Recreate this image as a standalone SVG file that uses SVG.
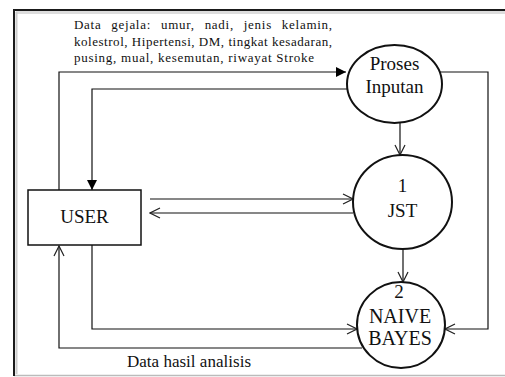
<svg xmlns="http://www.w3.org/2000/svg" width="505" height="377" viewBox="0 0 505 377">
<defs>
<marker id="fa" viewBox="0 0 10 10" refX="10" refY="5" markerWidth="10" markerHeight="10" markerUnits="userSpaceOnUse" orient="auto">
<path d="M0,0 L10,5 L0,10 Z" fill="#000"/>
</marker>
<marker id="oa" viewBox="0 0 12 12" refX="11" refY="6" markerWidth="12" markerHeight="12" markerUnits="userSpaceOnUse" orient="auto">
<path d="M1,1 L11,6 L1,11" fill="none" stroke="#222" stroke-width="1.2"/>
</marker>
</defs>
<style>
.frame{fill:none;stroke:#1a1a1a;stroke-width:2}
.conn{fill:none;stroke:#111;stroke-width:1.2}
.node{fill:#fff;stroke:#111;stroke-width:2}
.box{fill:#fff;stroke:#111;stroke-width:1.5}
.lbl{font-family:"Liberation Serif","Times New Roman",serif;fill:#111;text-anchor:middle}
.note{font-family:"Liberation Serif","Times New Roman",serif;fill:#111;font-size:13px}
</style>
<rect width="505" height="377" fill="#fff"/>
<!-- frame -->
<g id="frame">
<line x1="16" y1="12.5" x2="505" y2="12.5" stroke="#ddd" stroke-width="3"/>
<line x1="16.5" y1="12" x2="16.5" y2="374" stroke="#ccc" stroke-width="2"/>
<line x1="14" y1="375.5" x2="505" y2="375.5" stroke="#bbb" stroke-width="1.5"/>
<path class="frame" d="M505,10 H14 V376"/>
</g>
<g id="connectors">
<path class="conn" d="M59,190 V72 H346" marker-end="url(#fa)"/>
<path class="conn" d="M347,89 H92 V190" marker-end="url(#fa)"/>
<path class="conn" d="M400,123 V155" marker-end="url(#oa)"/>
<path class="conn" d="M150,199 H353" marker-end="url(#oa)"/>
<path class="conn" d="M353,213 H150" marker-end="url(#oa)"/>
<path class="conn" d="M403,249 V282" marker-end="url(#oa)"/>
<path class="conn" d="M92,245 V329 H357" marker-end="url(#oa)"/>
<path class="conn" d="M362,348 H59 V246" marker-end="url(#oa)"/>
<path class="conn" d="M440,72 H488 V329 H445" marker-end="url(#oa)"/>
</g>
<g id="label-input">
<text class="note" x="74" y="29" word-spacing="6" textLength="258" lengthAdjust="spacing">Data gejala: umur, nadi, jenis kelamin,</text>
<text class="note" x="74" y="46" textLength="258" lengthAdjust="spacing">kolestrol, Hipertensi, DM, tingkat kesadaran,</text>
<text class="note" x="74" y="62" textLength="240" lengthAdjust="spacing">pusing, mual, kesemutan, riwayat Stroke</text>
</g>
<g id="label-output">
<text class="note" x="127" y="367" font-size="17" style="font-size:17px" textLength="124" lengthAdjust="spacing">Data hasil analisis</text>
</g>
<g id="user">
<rect class="box" x="28" y="190" width="113" height="55"/>
<text class="lbl" x="84.5" y="223" font-size="19">USER</text>
</g>
<g id="proses-inputan">
<ellipse class="node" cx="394.5" cy="84" rx="47.5" ry="39"/>
<text class="lbl" x="394.5" y="70" font-size="19">Proses</text>
<text class="lbl" x="394.5" y="93" font-size="19">Inputan</text>
</g>
<g id="jst">
<ellipse class="node" cx="402.5" cy="202" rx="49.5" ry="47"/>
<text class="lbl" x="402.5" y="192" font-size="19">1</text>
<text class="lbl" x="402.5" y="217" font-size="19">JST</text>
</g>
<g id="naive-bayes">
<ellipse class="node" cx="401" cy="325" rx="44" ry="43"/>
<text class="lbl" x="399" y="298" font-size="19">2</text>
<text class="lbl" x="400" y="323" font-size="20">NAIVE</text>
<text class="lbl" x="400" y="345" font-size="20">BAYES</text>
</g>
</svg>
